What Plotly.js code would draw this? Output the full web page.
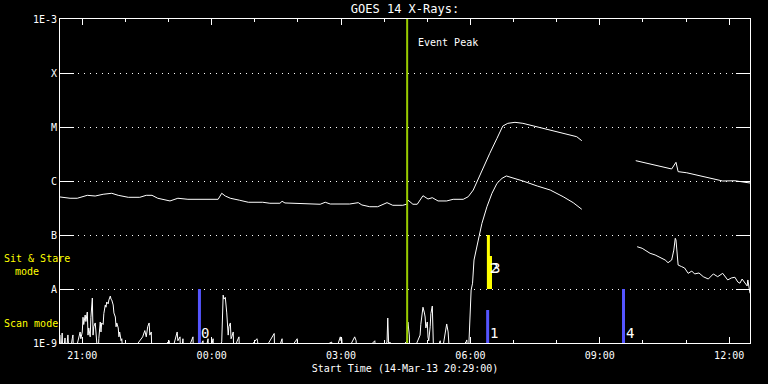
<!DOCTYPE html>
<html>
<head>
<meta charset="utf-8">
<script src="https://cdn.plot.ly/plotly-3.0.1.min.js"></script>
<style>html,body{margin:0;padding:0;background:#000;}#chart{width:768px;height:384px;}</style>
</head>
<body>
<div id="chart"></div>
<script>
// Start of plot: 14-Mar-13 20:29:00 ; times below are minutes after start
const startTime = "2013-03-14 20:29:00";
const endMinutes = 960;

// GOES long channel (1-8 A), W/m^2
const longMin = [0,14,24,28,38,49,60,72,81,95,111,120,128,136,147,153,164,178,220,225,230,237,250,262,282,292,306,309,313,330,348,362,369,376,403,415,420,431,442,455,463,477,483,484,491,497,505,512,518,526,538,547,561,568,575,580,589,598,608,616,623,633,644,664,682,700,719,726,
  760,
  801,817,839,851,857,860,872,890,909,922,939,956,960];
const longFlux = [5.06e-7,4.79e-7,4.79e-7,4.99e-7,5.43e-7,5.27e-7,5.68e-7,5.92e-7,5.43e-7,4.99e-7,4.99e-7,5.43e-7,5.43e-7,4.79e-7,4.45e-7,4.27e-7,4.79e-7,4.58e-7,4.58e-7,5.92e-7,5.27e-7,4.79e-7,4.40e-7,4.04e-7,4.04e-7,3.87e-7,3.87e-7,4.21e-7,3.92e-7,3.87e-7,3.71e-7,3.71e-7,4.04e-7,3.75e-7,3.75e-7,3.97e-7,3.60e-7,3.34e-7,3.34e-7,3.97e-7,3.55e-7,3.55e-7,3.75e-7,4.45e-7,3.71e-7,3.71e-7,5.34e-7,4.64e-7,4.91e-7,4.27e-7,4.27e-7,4.58e-7,4.58e-7,5.12e-7,6.81e-7,9.70e-7,1.72e-6,3.26e-6,6.18e-6,1.04e-5,1.17e-5,1.22e-5,1.17e-5,1.01e-5,8.80e-6,7.64e-6,6.61e-6,5.57e-6,
  null,
  2.38e-6,2.13e-6,1.80e-6,1.67e-6,2.22e-6,1.49e-6,1.42e-6,1.24e-6,1.09e-6,1.00e-6,1.01e-6,9.46e-7,9.18e-7];

// GOES short channel (0.5-4 A), W/m^2 (values below 1E-9 fall under the axis)
const shortMin = [0,1,3,4,7,8,11,13,17,18,19,28,29,31,32,33,35,36,38,39,40,42,43,45,46,47,49,50,51,53,54,56,57,58,60,61,63,64,65,67,68,70,71,72,74,75,77,78,79,81,82,83,85,86,88,90,92,
  115,118,120,122,124,125,127,128,152,153,163,164,167,168,171,173,185,186,199,200,206,207,213,214,
  225,227,228,230,231,232,234,235,237,238,239,241,242,246,249,250,274,275,277,296,298,299,309,310,330,331,
  378,380,390,391,392,394,410,412,413,438,440,455,456,458,459,460,483,484,486,487,
  499,501,502,504,505,507,508,509,511,512,513,515,516,518,519,520,529,530,538,540,541,543,565,566,568,
  570,571,572,574,576,582,587,594,601,608,615,621,630,644,664,682,700,714,726,
  760,
  803,810,814,821,828,835,842,846,851,854,856,857,859,860,865,869,874,879,883,889,895,902,909,915,922,929,934,939,943,946,949,953,956,957,959,960];
const shortFlux = [1.41e-9,5e-10,1.53e-9,5e-10,1.24e-9,5e-10,1.41e-9,5e-10,1.2e-9,1.41e-9,5e-10,1.6e-9,1.2e-9,1.6e-9,3.0e-9,2.2e-9,3.3e-9,2.5e-9,3.75e-9,1.4e-9,1.9e-9,1.3e-9,3.0e-9,6.8e-9,1.4e-9,2.0e-9,2.35e-9,1.3e-9,1.1e-9,5e-10,1.2e-9,2.45e-9,1.6e-9,2.35e-9,2.2e-9,3.5e-9,5.06e-9,4.6e-9,5.75e-9,5.3e-9,6.26e-9,7.4e-9,6.5e-9,6.26e-9,5.06e-9,3.6e-9,3.03e-9,2.0e-9,2.35e-9,1.9e-9,1.3e-9,1.6e-9,1.1e-9,1.2e-9,5e-10,1.0e-9,5e-10,
  1.3e-9,1.7e-9,1.3e-9,2.0e-9,2.35e-9,1.4e-9,1.6e-9,5e-10,1.1e-9,5e-10,1.6e-9,1.1e-9,1.3e-9,5e-10,1.2e-9,5e-10,1.3e-9,5e-10,1.1e-9,5e-10,1.2e-9,5e-10,1.2e-9,5e-10,
  1.05e-9,7.7e-9,6.5e-9,7.0e-9,4.0e-9,3.6e-9,1.4e-9,2.0e-9,2.35e-9,1.2e-9,1.3e-9,1.6e-9,5e-10,1.05e-9,1.3e-9,5e-10,1.2e-9,1.05e-9,5e-10,1.3e-9,1.5e-9,5e-10,1.2e-9,5e-10,1.2e-9,5e-10,
  1.04e-9,5e-10,1.3e-9,1.1e-9,1.2e-9,5e-10,1.3e-9,1.1e-9,5e-10,1.1e-9,5e-10,1.04e-9,2.9e-9,5e-10,1.04e-9,5e-10,1.1e-9,2.45e-9,1.41e-9,5e-10,
  1.2e-9,1.4e-9,2.2e-9,3.3e-9,4.6e-9,3.6e-9,3.03e-9,1.9e-9,2.45e-9,1.29e-9,1.1e-9,2.0e-9,3.5e-9,4.84e-9,1.24e-9,5e-10,1.1e-9,5e-10,2.25e-9,1.6e-9,1.0e-9,5e-10,1.05e-9,1.14e-9,5e-10,
  2.67e-9,6.26e-9,9.57e-9,1.28e-8,3.44e-8,8.08e-8,1.64e-7,3.34e-7,5.92e-7,9.06e-7,1.12e-6,1.24e-6,1.15e-6,1.0e-6,8.08e-7,6.81e-7,5.12e-7,3.97e-7,2.99e-7,
  null,
  6.07e-8,5.67e-8,5.25e-8,4.58e-8,4.27e-8,3.80e-8,3.44e-8,3.07e-8,3.44e-8,5.25e-8,8.69e-8,8.08e-8,3.71e-8,2.78e-8,2.59e-8,2.45e-8,1.95e-8,2.15e-8,1.90e-8,1.98e-8,1.69e-8,1.53e-8,1.90e-8,1.69e-8,1.95e-8,1.47e-8,1.60e-8,1.65e-8,1.35e-8,1.28e-8,1.53e-8,1.31e-8,1.14e-8,1.47e-8,9.57e-9,8.32e-9];

// Event peak
const eventPeakMin = 483;   // 04:32
// Observation bars: label, minutes after start, bottom and top (W/m^2 scale of the plot), mode
const obsLabels = ["0","1","2","3","4"];
const obsMin    = [194, 595, 596, 599, 784];
const obsBottom = [1e-9, 1e-9, 1e-8, 1e-8, 1e-9];
const obsTop    = [1e-8, 4.08e-9, 1e-7, 4.08e-8, 1e-8];
const obsMode   = ["scan","scan","sit","sit","scan"];

const yTickVals = [1e-9,1e-8,1e-7,1e-6,1e-5,1e-4,1e-3];
const yTickText = ["1E-9","A","B","C","M","X","1E-3"];

const t0 = Date.UTC(2013,2,14,20,29,0);
function toDate(m){
  if (m === null) return null;
  const d = new Date(t0 + m*60000).toISOString();
  return d.slice(0,19).replace('T',' ');
}

const FONT = "DejaVu Sans Mono";
const traces = [];
traces.push({x: longMin.map(toDate), y: longFlux, type:'scatter', mode:'lines',
  line:{color:'#ffffff', width:1}, connectgaps:false, hoverinfo:'skip'});
traces.push({x: shortMin.map(toDate), y: shortFlux, type:'scatter', mode:'lines',
  line:{color:'#ffffff', width:1}, connectgaps:false, hoverinfo:'skip'});
traces.push({x:[toDate(eventPeakMin), toDate(eventPeakMin)], y:[1e-10, 1e-2], type:'scatter', mode:'lines',
  line:{color:'#99cc00', width:2}, hoverinfo:'skip'});

const annotations = [];
obsLabels.forEach((lab,i)=>{
  traces.push({x:[toDate(obsMin[i]), toDate(obsMin[i])], y:[obsBottom[i], obsTop[i]],
    type:'scatter', mode:'lines',
    line:{color: obsMode[i]==='scan' ? '#5555ff' : '#ffff00', width:3}, hoverinfo:'skip'});
});
// number labels
const labPos = {"0":-8.82,"1":-8.82,"2":-7.62,"3":-7.62,"4":-8.82};
obsLabels.forEach((lab,i)=>{
  annotations.push({x: toDate(obsMin[i]), y: labPos[lab], xref:'x', yref:'y', text: lab,
    showarrow:false, xanchor:'left', yanchor:'middle', xshift: (lab==='3'?-1:0),
    font:{family:FONT, size:14, color:'#ffffff'}});
});
annotations.push({x: toDate(eventPeakMin), y:-3.44, xref:'x', yref:'y', text:'Event Peak',
  showarrow:false, xanchor:'left', yanchor:'middle', xshift:9,
  font:{family:FONT, size:10, color:'#ffffff'}});
annotations.push({x:(2-60)/690, y:-7.44, xref:'paper', yref:'y', text:'Sit & Stare',
  showarrow:false, xanchor:'left', yanchor:'middle', font:{family:FONT, size:10, color:'#ffff00'}});
annotations.push({x:(13-60)/690, y:-7.667, xref:'paper', yref:'y', text:'mode',
  showarrow:false, xanchor:'left', yanchor:'middle', font:{family:FONT, size:10, color:'#ffff00'}});
annotations.push({x:(2-60)/690, y:-8.648, xref:'paper', yref:'y', text:'Scan mode',
  showarrow:false, xanchor:'left', yanchor:'middle', font:{family:FONT, size:10, color:'#ffff00'}});

const layout = {
  width:768, height:384,
  paper_bgcolor:'#000000', plot_bgcolor:'#000000',
  margin:{l:60, r:18, t:19, b:41, pad:0},
  showlegend:false,
  font:{family:FONT, size:10, color:'#ffffff'},
  title:{text:'GOES 14 X-Rays:', x:0.5, xref:'paper', y:1-9/384, yref:'container', yanchor:'middle', xanchor:'center',
    font:{family:FONT, size:12, color:'#ffffff'}},
  xaxis:{type:'date', range:[toDate(0), toDate(endMinutes)],
    tick0: toDate(31), dtick: 3*3600000, tickformat:'%H:%M',
    ticks:'inside', ticklen:6, tickcolor:'#ffffff', tickwidth:1,
    minor:{dtick:3600000, tick0: toDate(31), ticks:'inside', ticklen:3, tickcolor:'#ffffff', showgrid:false},
    showline:true, linecolor:'#ffffff', linewidth:1, mirror:'ticks',
    showgrid:false, zeroline:false, fixedrange:true, ticklabelstandoff:3,
    tickfont:{family:FONT, size:10, color:'#ffffff'},
    title:{text:'Start Time (14-Mar-13 20:29:00)', standoff:4, font:{family:FONT, size:10, color:'#ffffff'}},
    automargin:false},
  yaxis:{type:'log', range:[-9,-3],
    tickmode:'array', tickvals:yTickVals, ticktext:yTickText,
    ticks:'inside', ticklen:14, tickcolor:'#ffffff', tickwidth:1,
    showline:true, linecolor:'#ffffff', linewidth:1, mirror:'ticks',
    showgrid:true, gridcolor:'#ffffff', gridwidth:1, griddash:'1px,5px',
    zeroline:false, fixedrange:true,
    tickfont:{family:FONT, size:10, color:'#ffffff'}, automargin:false},
  annotations: annotations
};

Plotly.newPlot('chart', traces, layout, {displayModeBar:false, staticPlot:true});
</script>
</body>
</html>
